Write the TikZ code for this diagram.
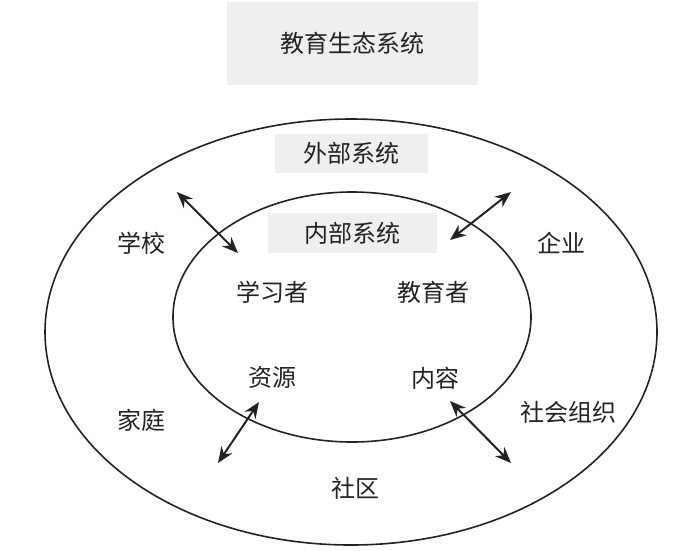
\documentclass[tikz,border=0pt]{standalone}
\usepackage{fontspec}
\newfontfamily\cjk{Noto Sans CJK SC}
\usetikzlibrary{arrows.meta,shapes.geometric}
\definecolor{boxgray}{HTML}{EFEFEF}
\definecolor{ink}{HTML}{222222}
\begin{document}
\begin{tikzpicture}[x=1pt,y=-1pt,
  every node/.style={font=\cjk\fontsize{24}{28}\selectfont, text=ink, inner sep=0pt},
  gbox/.style={fill=boxgray},
  ring/.style={draw=ink, line width=1.6pt, ellipse, fill=none},
  link/.style={draw=ink, line width=2pt, {Stealth[length=16pt,width=13pt]}-{Stealth[length=16pt,width=13pt]}}]
\useasboundingbox (0,0) rectangle (700,550);
% title
\node[gbox, minimum width=251pt, minimum height=83pt] (title) at (352,43.5) {教育生态系统};
% ellipses
\node[ring, minimum width=612pt, minimum height=426pt] (outer) at (351,332) {};
\node[ring, minimum width=358pt, minimum height=250pt] (inner) at (352,317) {};
% boxes
\node[gbox, minimum width=153pt, minimum height=39pt] (ext) at (351.5,153) {外部系统};
\node[gbox, minimum width=169pt, minimum height=40pt] (int) at (352.5,233) {内部系统};
% outer labels
\node (school) at (141,243) {学校};
\node (firm) at (561,243) {企业};
\node (family) at (141,420) {家庭};
\node (org) at (568,412) {社会组织};
\node (comm) at (355,488) {社区};
% inner labels
\node (learner) at (272,292) {学习者};
\node (teacher) at (433,292) {教育者};
\node (res) at (272,377) {资源};
\node (cont) at (435,378) {内容};
% arrow ends
\coordinate (a1) at (177,192);
\coordinate (a2) at (238,253);
\coordinate (b1) at (511,192);
\coordinate (b2) at (450,240);
\coordinate (c1) at (259,402);
\coordinate (c2) at (218,463);
\coordinate (d1) at (450,401);
\coordinate (d2) at (511,463);
\draw[link] (a1) -- (a2);
\draw[link] (b1) -- (b2);
\draw[link] (c1) -- (c2);
\draw[link] (d1) -- (d2);
\end{tikzpicture}
\end{document}
